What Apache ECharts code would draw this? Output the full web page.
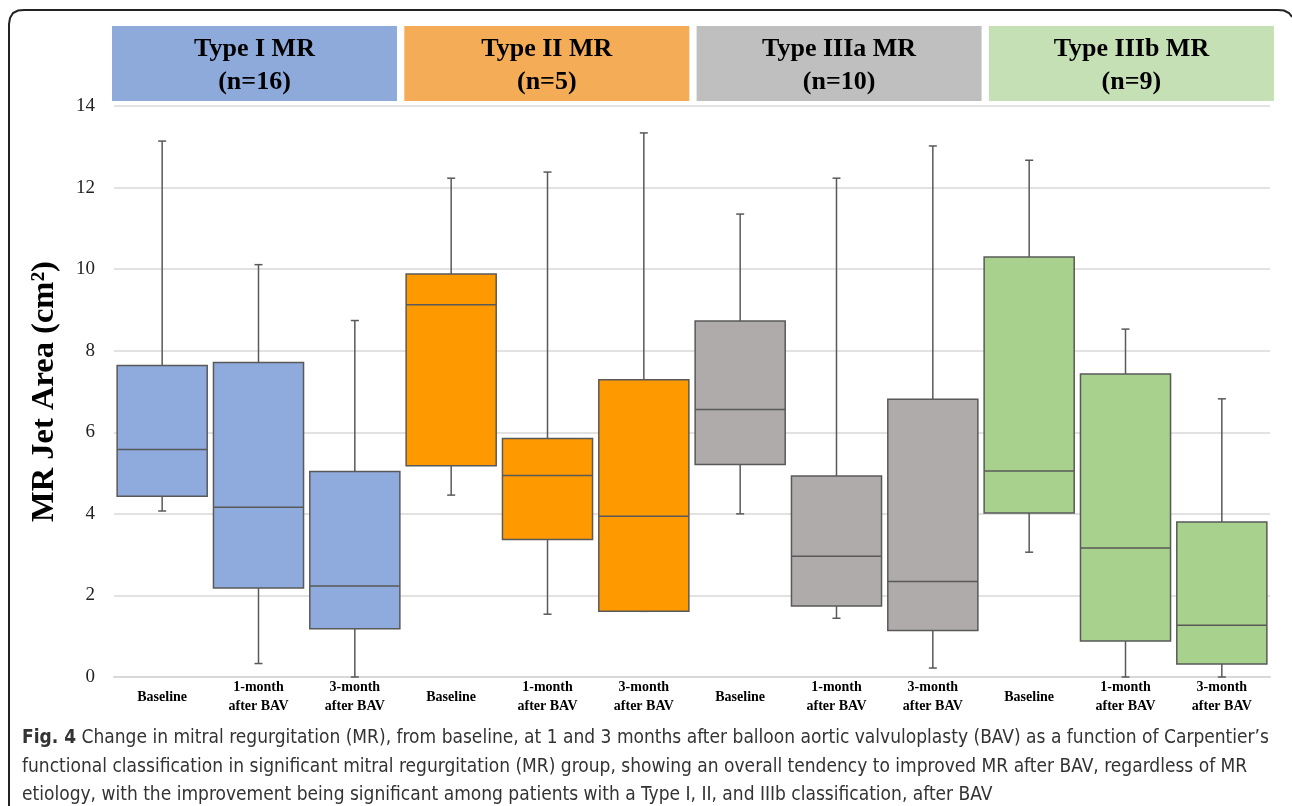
<!DOCTYPE html>
<html>
<head>
<meta charset="utf-8">
<script src="https://cdn.jsdelivr.net/npm/echarts@6/dist/echarts.min.js"></script>
<style>
html,body{margin:0;padding:0;background:#fff;}
#main{width:1292px;height:806px;}
</style>
</head>
<body>
<div id="main"></div>
<script>
// ---- data ----
const categories = ['Baseline', '1-month\nafter BAV', '3-month\nafter BAV',
                    'Baseline', '1-month\nafter BAV', '3-month\nafter BAV',
                    'Baseline', '1-month\nafter BAV', '3-month\nafter BAV',
                    'Baseline', '1-month\nafter BAV', '3-month\nafter BAV'];
const groupNames = ['Type I MR', 'Type II MR', 'Type IIIa MR', 'Type IIIb MR'];
const groupN = ['(n=16)', '(n=5)', '(n=10)', '(n=9)'];
// [min, Q1, median, Q3, max]
const typeI   = [[4.07, 4.43, 5.58, 7.64, 13.14], [0.33, 2.18, 4.16, 7.71, 10.11], [0.0, 1.18, 2.23, 5.04, 8.74]];
const typeII  = [[4.46, 5.18, 9.13, 9.88, 12.23], [1.54, 3.37, 4.94, 5.85, 12.38], [1.61, 1.61, 3.94, 7.29, 13.34]];
const typeIIIa= [[4.0, 5.21, 6.56, 8.73, 11.35], [1.44, 1.74, 2.96, 4.93, 12.23], [0.22, 1.14, 2.34, 6.81, 13.02]];
const typeIIIb= [[3.06, 4.02, 5.05, 10.30, 12.67], [0.0, 0.88, 3.16, 7.43, 8.53], [0.0, 0.32, 1.27, 3.80, 6.82]];
const yTicks = { min: 0, max: 14, interval: 2 };
const caption = [
  "Change in mitral regurgitation (MR), from baseline, at 1 and 3 months after balloon aortic valvuloplasty (BAV) as a function of Carpentier\u2019s",
  "functional classification in significant mitral regurgitation (MR) group, showing an overall tendency to improved MR after BAV, regardless of MR",
  "etiology, with the improvement being significant among patients with a Type I, II, and IIIb classification, after BAV"
];

// ---- styles ----
const boxFill = ['#8faadc', '#ff9900', '#afabab', '#a9d18e'];
const headFill = ['#8eaadb', '#f4ad56', '#bfbfbf', '#c5e0b4'];
const serif = '"Liberation Serif", "Times New Roman", serif';
const capFont = '"Liberation Sans Narrow", "DejaVu Sans Condensed", "Open Sans", sans-serif';

const groups = [typeI, typeII, typeIIIa, typeIIIb];
const seriesData = [];
groups.forEach((g, gi) => g.forEach((d, k) => {
  seriesData.push([gi * 3 + k].concat(d).concat([gi]));
}));

const chart = echarts.init(document.getElementById('main'));

function renderBox(params, api) {
  const x = api.value(0);
  const gi = api.value(6);
  const lo = api.coord([x, api.value(1)]);
  const q1 = api.coord([x, api.value(2)]);
  const md = api.coord([x, api.value(3)]);
  const q3 = api.coord([x, api.value(4)]);
  const hi = api.coord([x, api.value(5)]);
  const band = api.size([1, 0])[0];
  const bw = band * 0.935;
  const cx = lo[0];
  const cap = 4;
  const ls = { stroke: '#595959', lineWidth: 1.5 };
  return {
    type: 'group',
    children: [
      { type: 'line', shape: { x1: cx, y1: hi[1], x2: cx, y2: q3[1] }, style: ls },
      { type: 'line', shape: { x1: cx, y1: lo[1], x2: cx, y2: q1[1] }, style: ls },
      { type: 'line', shape: { x1: cx - cap, y1: hi[1], x2: cx + cap, y2: hi[1] }, style: ls },
      { type: 'line', shape: { x1: cx - cap, y1: lo[1], x2: cx + cap, y2: lo[1] }, style: ls },
      { type: 'rect', shape: { x: cx - bw / 2, y: q3[1], width: bw, height: q1[1] - q3[1] },
        style: { fill: boxFill[gi], stroke: '#595959', lineWidth: 1.5 } },
      { type: 'line', shape: { x1: cx - bw / 2, y1: md[1], x2: cx + bw / 2, y2: md[1] }, style: ls }
    ]
  };
}

const graphics = [];
// outer frame
graphics.push({
  type: 'polyline', silent: true,
  shape: { points: [[9, 806], [9, 24], [10, 18], [13, 13], [18, 10.5], [24, 10], [1278, 10], [1284, 10.5], [1289, 13], [1292, 17]] },
  style: { fill: null, stroke: '#222', lineWidth: 2 }
});
// header boxes
const HX0 = 112, HPITCH = 292.3, HW = 285, HY = 26, HH = 75;
groupNames.forEach((nm, i) => {
  graphics.push({
    type: 'rect', silent: true,
    shape: { x: HX0 + i * HPITCH, y: HY, width: HW, height: HH },
    style: { fill: headFill[i] }
  });
  graphics.push({
    type: 'text', silent: true,
    x: HX0 + i * HPITCH + HW / 2, y: HY + HH / 2 + 2,
    style: {
      text: nm + '\n' + groupN[i], fill: '#000',
      font: 'bold 26px ' + serif, lineHeight: 33,
      align: 'center', verticalAlign: 'middle'
    }
  });
});
// caption
caption.forEach((ln, i) => {
  graphics.push({
    type: 'text', silent: true,
    x: 22, y: 738 + i * 28.7,
    style: {
      text: (i === 0 ? '{b|Fig. 4} ' : '') + ln,
      rich: { b: { font: 'bold 19px ' + capFont, fill: '#333' } },
      font: '19px ' + capFont,
      fill: '#333', verticalAlign: 'middle', align: 'left'
    }
  });
});

chart.setOption({
  animation: false,
  backgroundColor: '#fff',
  grid: { left: 114, right: 22, top: 106, bottom: 129, containLabel: false },
  xAxis: {
    type: 'category', data: categories,
    axisLine: { lineStyle: { color: '#d9d9d9', width: 2 } },
    axisTick: { show: false },
    splitLine: { show: false },
    axisLabel: {
      interval: 0, margin: 20, verticalAlign: 'middle',
      color: '#000', lineHeight: 19,
      fontFamily: serif, fontWeight: 'bold', fontSize: 14
    }
  },
  yAxis: {
    type: 'value', min: yTicks.min, max: yTicks.max, interval: yTicks.interval,
    name: 'MR Jet Area (cm\u00b2)', nameLocation: 'middle', nameGap: 53, nameRotate: 90,
    nameTextStyle: { fontFamily: serif, fontWeight: 'bold', fontSize: 32.5, color: '#000' },
    axisLine: { show: false }, axisTick: { show: false },
    axisLabel: { fontFamily: serif, fontSize: 19, color: '#222', margin: 19 },
    splitLine: { lineStyle: { color: '#d9d9d9', width: 1.5 } }
  },
  series: [{
    type: 'custom',
    renderItem: renderBox,
    encode: { x: 0, y: [1, 2, 3, 4, 5] },
    data: seriesData,
    z: 5
  }],
  graphic: graphics
});
</script>
</body>
</html>
